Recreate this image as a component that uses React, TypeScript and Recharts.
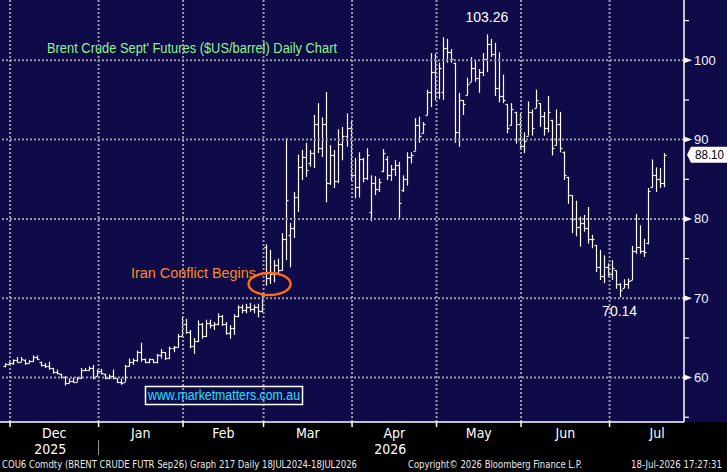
import React from "react";
import {
  ComposedChart,
  Bar,
  XAxis,
  YAxis,
  ReferenceLine,
  ReferenceDot,
} from "recharts";

// one entry per trading day, late Nov 2025 -> 17 Jul 2026
// prettier-ignore
const opens = [
  61.4, 61.7,
  61.8, 62.2, 62.0, 62.2, 61.8, 62.1, 62.6, 62.0, 61.6, 61.4, 61.2, 60.7, 60.5, 60.1, 59.3, 59.6, 59.5, 60.0, 61.0, 61.0, 61.2, 60.2,
  60.8, 60.5, 60.0, 60.2, 59.9, 59.5, 59.5, 61.4, 62.0, 62.2, 63.2, 62.4, 62.0, 62.3, 62.0, 62.8, 63.2, 62.5, 63.7, 63.8, 65.2,
  66.8, 65.8, 64.0, 64.6, 66.8, 65.3, 66.9, 66.6, 66.8, 67.8, 66.7, 65.6, 66.2, 67.8, 68.9, 68.5, 68.9, 68.6, 68.9, 68.4,
  76.5, 72.5, 73.0, 74.2, 73.6, 77.5, 78.0, 78.8, 82.8, 86.5, 87.8, 87.0, 88.3, 92.0, 89.0, 92.0, 84.5, 88.0, 84.8, 89.5, 90.5, 91.5,
  85.5, 84.0, 87.5, 85.2, 80.9, 84.5, 83.8, 86.0, 87.5, 85.5, 86.3, 86.8, 83.6, 85.0, 87.8, 88.6, 91.8, 90.8, 93.1, 96.0, 98.5,
  96.0, 96.0, 101.5, 101.0, 99.7, 91.0, 95.0, 95.6, 97.3, 99.0, 97.8, 98.5, 100.2, 102.0, 100.8, 96.5, 95.5, 94.5, 91.8, 93.5, 92.0,
  89.2, 90.5, 93.5, 94.0, 94.6, 93.0, 91.5, 92.5, 89.3, 92.0, 88.5, 85.3, 83.0, 80.0, 79.0, 79.5, 78.8, 77.5, 76.7, 74.0, 72.8, 74.0,
  73.0, 73.5, 71.8, 71.3, 71.8, 72.3, 76.0, 76.5, 76.0, 77.0, 84.0, 85.5, 85.0, 84.5,
];
// prettier-ignore
const highs = [
  61.8, 62.0,
  62.3, 62.6, 62.6, 62.3, 62.2, 62.8, 62.8, 62.0, 61.8, 62.0, 61.2, 61.0, 60.5, 60.2, 59.9, 60.0, 60.1, 61.2, 61.2, 61.4, 61.6, 61.0,
  61.1, 60.5, 60.4, 61.0, 59.9, 59.9, 61.6, 62.4, 62.4, 63.4, 64.4, 62.4, 62.4, 62.3, 63.0, 63.6, 63.2, 63.9, 64.0, 65.5, 67.6,
  67.4, 66.0, 65.0, 67.2, 66.9, 67.3, 67.3, 67.0, 68.1, 67.9, 67.0, 66.6, 68.0, 69.1, 69.2, 69.3, 69.4, 69.2, 69.3, 70.6,
  76.8, 76.1, 74.8, 75.0, 78.2, 90.2, 79.5, 83.4, 88.1, 88.7, 89.6, 88.7, 93.1, 94.6, 92.8, 96.0, 89.3, 88.7, 91.3, 91.6, 93.3, 92.5,
  87.7, 88.4, 87.7, 88.9, 85.5, 85.4, 85.1, 88.8, 87.9, 86.8, 87.4, 87.2, 85.5, 88.4, 88.4, 92.7, 92.9, 92.2, 96.3, 100.9, 100.8,
  99.7, 102.9, 102.7, 101.4, 99.7, 95.9, 95.0, 97.8, 100.4, 100.0, 98.9, 100.9, 103.26, 102.7, 102.2, 101.0, 98.2, 94.5, 94.6, 93.5, 93.3,
  90.9, 94.8, 93.8, 96.3, 94.6, 93.5, 95.5, 92.5, 93.8, 93.5, 88.5, 85.3, 83.0, 82.3, 80.3, 80.5, 81.5, 78.0, 76.7, 76.1, 75.4, 74.4,
  74.8, 73.5, 71.9, 72.4, 72.5, 76.6, 80.6, 79.2, 77.5, 83.9, 87.5, 86.5, 86.4, 88.3,
];
// prettier-ignore
const lows = [
  61.3, 61.6,
  61.6, 61.9, 62.0, 61.6, 61.8, 62.0, 62.2, 61.4, 61.2, 61.0, 60.5, 60.4, 59.9, 59.0, 59.3, 59.4, 59.5, 59.9, 60.8, 60.9, 59.8, 60.2,
  60.4, 59.8, 59.8, 59.8, 59.3, 59.1, 59.5, 61.4, 61.6, 62.0, 62.0, 61.8, 61.8, 61.8, 61.8, 62.4, 62.2, 62.4, 63.2, 63.8, 65.1,
  65.5, 63.7, 63.0, 64.5, 64.9, 65.1, 66.2, 66.0, 66.6, 66.5, 65.4, 64.9, 65.4, 67.6, 68.1, 68.1, 68.3, 68.1, 67.6, 68.2,
  71.6, 71.8, 72.0, 73.0, 73.5, 74.8, 73.9, 77.6, 80.9, 84.9, 85.3, 86.6, 86.4, 88.3, 87.8, 82.1, 84.3, 83.9, 84.5, 87.4, 89.1, 84.9,
  82.6, 82.7, 84.6, 84.9, 79.7, 83.0, 83.4, 85.9, 84.9, 84.8, 85.4, 80.1, 83.4, 84.2, 87.0, 88.6, 89.6, 90.8, 93.1, 94.1, 95.0,
  95.1, 95.0, 99.7, 99.7, 89.6, 89.1, 93.1, 95.6, 97.3, 97.3, 95.9, 98.0, 98.5, 100.4, 95.5, 94.7, 94.6, 90.8, 91.8, 89.5, 88.7,
  88.3, 90.5, 90.5, 94.0, 91.6, 90.5, 90.9, 88.0, 89.3, 88.4, 84.9, 81.9, 78.2, 77.8, 76.5, 78.4, 76.9, 76.3, 73.3, 72.3, 71.9, 72.7,
  72.3, 71.2, 70.14, 71.3, 71.2, 72.3, 75.6, 75.6, 75.2, 76.8, 84.0, 83.4, 83.9, 84.0,
];
// prettier-ignore
const closes = [
  61.7, 61.9,
  62.2, 62.0, 62.4, 61.8, 62.1, 62.6, 62.3, 61.6, 61.4, 61.2, 60.7, 60.6, 60.1, 59.3, 59.6, 59.5, 60.0, 61.0, 61.0, 61.2, 60.0, 60.8,
  60.6, 60.0, 60.2, 59.9, 59.5, 59.3, 61.4, 62.0, 62.2, 63.2, 62.4, 62.0, 62.3, 62.0, 62.8, 63.2, 62.5, 63.7, 63.8, 65.2, 66.8,
  65.8, 64.0, 64.6, 66.8, 65.3, 66.9, 66.6, 66.8, 67.8, 66.7, 65.6, 66.2, 67.8, 68.9, 68.5, 68.9, 68.6, 68.9, 68.4, 70.3,
  72.5, 73.0, 74.2, 73.6, 77.5, 82.4, 78.8, 82.8, 86.5, 87.8, 86.2, 88.3, 92.0, 89.0, 92.0, 84.5, 88.0, 84.8, 89.5, 90.5, 91.5, 85.5,
  84.0, 87.5, 85.2, 88.0, 84.5, 83.8, 84.6, 88.3, 85.5, 86.3, 86.8, 82.0, 85.0, 87.8, 88.1, 91.8, 90.4, 92.0, 96.0, 98.5, 96.0,
  99.0, 101.5, 101.0, 100.2, 91.0, 95.0, 94.5, 97.0, 99.0, 97.8, 98.5, 100.2, 102.0, 100.8, 96.5, 95.5, 95.0, 91.5, 93.8, 92.0, 89.2,
  89.8, 93.5, 91.5, 95.0, 93.0, 91.5, 93.5, 89.0, 92.0, 89.0, 85.5, 83.0, 80.0, 79.0, 79.5, 78.8, 77.5, 77.5, 74.0, 72.8, 74.0, 73.0,
  73.8, 71.8, 71.0, 71.8, 72.2, 76.0, 76.5, 76.0, 75.8, 83.5, 85.5, 85.0, 84.5, 88.1,
];

// bar index where each month starts (grid lines), and where its label sits
const monthStarts = [1.5, 23.5, 44.5, 64.5, 86.5, 107.5, 128.5, 150.5];
const monthCentres = [12.5, 34, 54.5, 75.5, 97, 118, 139.5, 162.3];
const monthNames = ["Dec", "Jan", "Feb", "Mar", "Apr", "May", "Jun", "Jul"];
const yearLabels: Record<string, string> = { Dec: "2025", Apr: "2026" };
const yearBreak = 23.5;

const priceTicks = [55, 60, 65, 70, 75, 80, 85, 90, 95, 100, 105];
const gridPrices = [60, 70, 80, 90, 100];

const NAVY = "#0f0b48";
const GRID = "#9a9aa6";
const SANS = "'Liberation Sans', Arial, sans-serif";
const NARROW = "'Liberation Sans Narrow', 'DejaVu Sans Condensed', sans-serif";

const data = closes.map((c, i) => ({ i, o: opens[i], h: highs[i], l: lows[i], c }));

// peak of the rally, then the low of the pull-back that followed it
const peak = Math.max(...highs);
const peakIdx = highs.indexOf(peak);
const trough = Math.min(...lows.slice(peakIdx));
const troughIdx = lows.indexOf(trough, peakIdx);
const last = closes[closes.length - 1];

function OhlcBar(props: any) {
  const { x, y, width, height, payload } = props;
  if (x == null || y == null || height == null) return <g />;
  const top = Math.min(y, y + height);
  const bottom = Math.max(y, y + height);
  const cx = Math.round(x + width / 2) + 0.5;
  const range = payload.h - payload.l || 1;
  const py = (v: number) => Math.round(top + ((payload.h - v) / range) * (bottom - top)) + 0.5;
  return (
    <g stroke="#fff" strokeWidth={1.2}>
      <line x1={cx} x2={cx} y1={top} y2={bottom} />
      <line x1={cx - 2} x2={cx} y1={py(payload.o)} y2={py(payload.o)} />
      <line x1={cx} x2={cx + 2} y1={py(payload.c)} y2={py(payload.c)} />
    </g>
  );
}

function PriceTick(props: any) {
  const { x, y, payload } = props;
  const v = payload.value;
  if (v % 10 !== 0) {
    return <line x1={x} x2={x + 5} y1={y} y2={y} stroke="#fff" strokeWidth={1.2} />;
  }
  return (
    <g>
      <polygon points={`${x},${y - 3} ${x},${y + 3} ${x + 8},${y}`} fill="#fff" />
      <text x={x + 10} y={y} dy={4.5} fill="#f2f4ff" fontSize={13} fontFamily={SANS}>
        {v}
      </text>
    </g>
  );
}

function BreakTick(props: any) {
  const { x, y, payload } = props;
  if (payload.value !== yearBreak) return <g />;
  return <line x1={x} x2={x} y1={y + 11} y2={y + 26} stroke="#999" strokeWidth={1} />;
}

function MonthTick(props: any) {
  const { x, y, payload } = props;
  const idx = monthCentres.indexOf(payload.value);
  const name = monthNames[idx];
  const year = yearLabels[name];
  return (
    <g fill="#fff" fontFamily={NARROW} fontSize={14}>
      <text x={x} y={y} dy={9.5} textAnchor="middle">
        {name}
      </text>
      {year && (
        <text x={x - 4} y={y} dy={25.5} textAnchor="middle">
          {year}
        </text>
      )}
    </g>
  );
}

function PriceTag(props: any) {
  const { viewBox } = props;
  const x = viewBox.x + viewBox.width;
  const y = viewBox.y;
  return (
    <g>
      <path
        d={`M${x + 3} ${y} L${x + 7} ${y - 8} L${x + 46} ${y - 8} L${x + 46} ${y + 8} L${x + 7} ${y + 8} Z`}
        fill="#fff"
      />
      <text x={x + 11} y={y} dy={4.5} fill="#000" fontSize={13} fontFamily={SANS} textLength={29} lengthAdjust="spacingAndGlyphs">
        {last.toFixed(2)}
      </text>
    </g>
  );
}

function ConflictRing(props: any) {
  const { cx, cy } = props;
  return <ellipse cx={cx} cy={cy} rx={21} ry={11} fill="none" stroke="#ff6a10" strokeWidth={2.5} />;
}

export default function App() {
  return (
    <div
      style={{
        position: "absolute",
        left: 0,
        top: 0,
        width: 727,
        height: 472,
        background: "#000",
        overflow: "hidden",
      }}
    >
      <div style={{ position: "absolute", left: 0, top: 0, width: 727, height: 422, background: NAVY }} />
      <div style={{ position: "absolute", left: 0, top: 0 }}>
        <ComposedChart width={727} height={472} data={data} margin={{ top: 0, right: 0, bottom: 0, left: 0 }}>
          <XAxis
            dataKey="i"
            type="number"
            domain={[-1, 169]}
            allowDataOverflow
            ticks={monthStarts}
            interval={0}
            height={6}
            tickSize={5}
            axisLine={{ stroke: "#fff", strokeWidth: 1.5 }}
            tickLine={{ stroke: "#fff", strokeWidth: 1.5 }}
            tick={<BreakTick />}
          />
          <XAxis
            xAxisId="m"
            dataKey="i"
            type="number"
            domain={[-1, 169]}
            allowDataOverflow
            ticks={monthCentres}
            interval={0}
            height={44}
            tickSize={0}
            tickMargin={0}
            axisLine={false}
            tickLine={false}
            tick={<MonthTick />}
          />
          <YAxis
            orientation="right"
            type="number"
            domain={[54.4, 107.6]}
            allowDataOverflow
            ticks={priceTicks}
            interval={0}
            width={43}
            tickSize={0}
            tickMargin={0}
            axisLine={{ stroke: "#fff", strokeWidth: 1.5 }}
            tickLine={false}
            tick={<PriceTick />}
          />
          {gridPrices.map((p) => (
            <ReferenceLine key={`h${p}`} y={p} stroke={GRID} strokeWidth={2} strokeDasharray="2 2" />
          ))}
          {monthStarts.map((m) => (
            <ReferenceLine key={`v${m}`} x={m} stroke={GRID} strokeWidth={2} strokeDasharray="2 2" />
          ))}
          <Bar
            dataKey={(d: any) => [d.l, d.h]}
            barSize={3}
            shape={<OhlcBar />}
            isAnimationActive={false}
          />
          <ReferenceLine y={last} stroke="none" label={<PriceTag />} />
          <ReferenceDot
            x={peakIdx}
            y={peak}
            r={1}
            fill="none"
            stroke="none"
            label={{ value: peak.toFixed(2), position: "top", offset: 11, fill: "#fff", fontSize: 14, fontFamily: SANS }}
          />
          <ReferenceDot
            x={troughIdx}
            y={trough}
            r={1}
            fill="none"
            stroke="none"
            label={{ value: trough.toFixed(2), position: "bottom", offset: 8, fill: "#fff", fontSize: 14, fontFamily: SANS }}
          />
          <ReferenceDot x={66} y={71.8} r={1} shape={<ConflictRing />} />
        </ComposedChart>
      </div>
      <svg
        width={727}
        height={472}
        style={{ position: "absolute", left: 0, top: 0, pointerEvents: "none" }}
      >
        <text x={47} y={53} fill="#8cf58c" fontSize={14} fontFamily={SANS} textLength={290} lengthAdjust="spacingAndGlyphs">
          Brent Crude Sept' Futures ($US/barrel) Daily Chart
        </text>
        <text x={131} y={278} fill="#ff8a1c" fontSize={14} fontFamily={SANS} textLength={125} lengthAdjust="spacingAndGlyphs">
          Iran Conflict Begins
        </text>
        <rect x={145.5} y={386.5} width={157} height={18} fill="none" stroke="#fff" strokeWidth={1.5} />
        <text x={148} y={400} fill="#1ee0ff" fontSize={14} fontFamily={SANS} textLength={152} lengthAdjust="spacingAndGlyphs">
          www.marketmatters.com.au
        </text>
        <g fill="#e8e8e8" fontSize={11} fontFamily={NARROW}>
          <text x={2} y={468} textLength={355} lengthAdjust="spacingAndGlyphs">
            COU6 Comdty (BRENT CRUDE FUTR  Sep26) Graph 217 Daily 18JUL2024-18JUL2026
          </text>
          <text x={408} y={468} textLength={174} lengthAdjust="spacingAndGlyphs">
            Copyright© 2026 Bloomberg Finance L.P.
          </text>
          <text x={631} y={467.5} fontSize={10} textLength={91} lengthAdjust="spacingAndGlyphs">
            18-Jul-2026 17:27:31
          </text>
        </g>
      </svg>
    </div>
  );
}
